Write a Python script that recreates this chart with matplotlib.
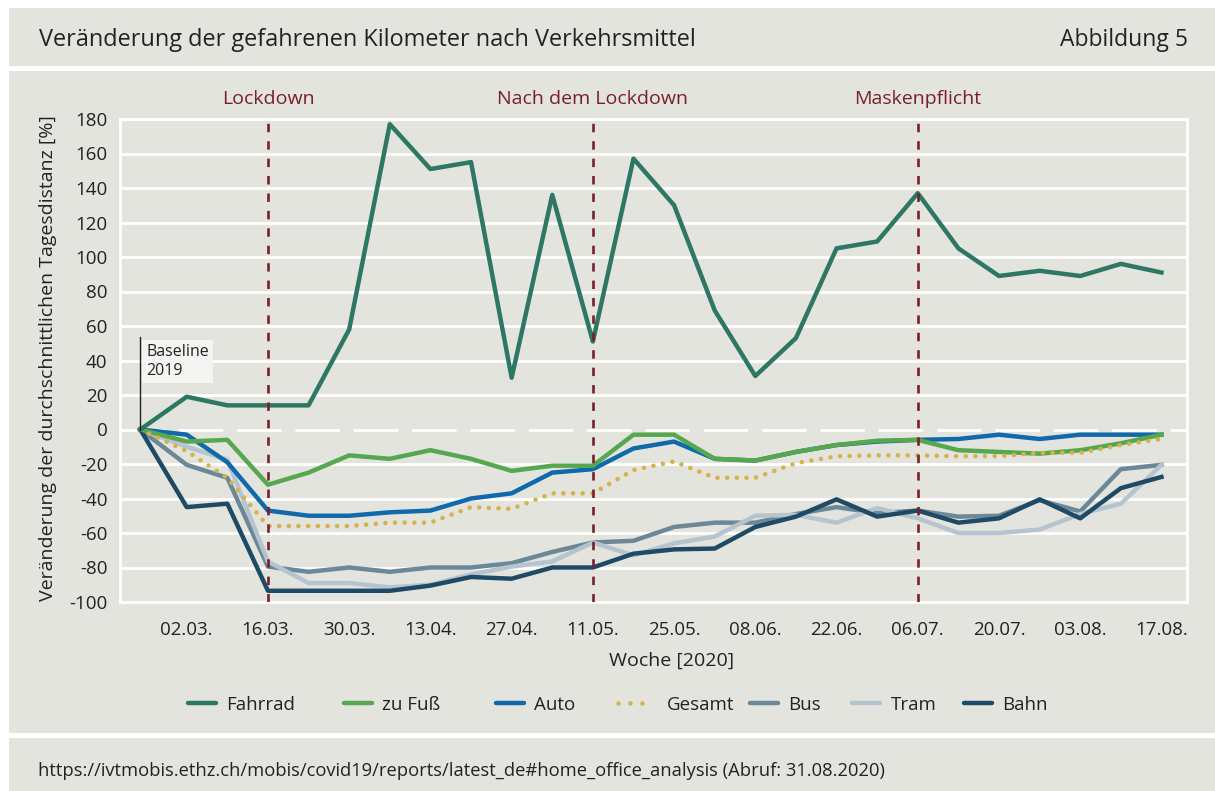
import matplotlib
matplotlib.use("Agg")
import matplotlib.pyplot as plt
from matplotlib.patches import Rectangle
import numpy as np

plt.rcParams['font.family'] = ['Open Sans', 'DejaVu Sans']

# ---------------- data ----------------
# days relative to Monday 02.03.2020; first value is the 2019 baseline
days = [-8, 0, 7, 14, 21, 28, 35, 42, 49, 56, 63, 70, 77, 84, 91, 98, 105,
        112, 119, 126, 133, 140, 147, 154, 161, 168]
tick_days = [0, 14, 28, 42, 56, 70, 84, 98, 112, 126, 140, 154, 168]
tick_labels = ['02.03.', '16.03.', '30.03.', '13.04.', '27.04.', '11.05.', '25.05.',
               '08.06.', '22.06.', '06.07.', '20.07.', '03.08.', '17.08.']

fahrrad = [0, 19, 14, 14, 14, 58, 177, 151, 155, 30, 136, 51, 157, 130, 69, 31, 53,
           105, 109, 137, 105, 89, 92, 89, 96, 91]
zu_fuss = [0, -7, -6, -32, -25, -15, -17, -12, -17, -24, -21, -21, -3, -3, -17, -18, -13,
           -9, -6.5, -6, -12, -13, -14, -12, -8, -3]
auto = [0, -3, -19, -47, -50, -50, -48, -47, -40, -37, -25, -23, -11, -7, -17, -18, -13,
        -9, -7, -6, -5.5, -3, -5.5, -3, -3, -3]
gesamt = [0, -12.5, -28, -56, -56, -56, -54, -54, -45, -46, -37, -37, -23.5, -18.5, -28, -28,
          -19.5, -15.5, -15, -15, -15.5, -15.5, -13.5, -13.5, -9, -5.5]
bus = [0, -20.5, -28, -79.5, -82.5, -80, -82.5, -80, -80, -77.5, -71, -65.5, -64.5, -56.5,
       -54, -54, -49, -45, -48.5, -47, -50.5, -50, -41, -47.5, -23, -20.5]
tram = [0, -10, -17.5, -76.5, -89, -89, -91.5, -90, -84, -79.5, -76.5, -65.5, -73, -66, -62,
        -50, -49.5, -54, -45.5, -51.5, -60, -60, -58, -49, -43, -20.5]
bahn = [0, -45, -43, -93.5, -93.5, -93.5, -93.5, -90.5, -85.5, -86.5, -80, -80, -72, -69.5,
        -69, -56.5, -50.5, -40.5, -50.5, -47, -54, -51.5, -40.5, -51.5, -34, -27.5]

events_day = [14, 70, 126]
events_lbl = ['Lockdown', 'Nach dem Lockdown', 'Maskenpflicht']

yticks = list(range(-100, 181, 20))

# ---------------- styling ----------------
W, H = 1215, 791
BG = '#e4e4df'
TXT = '#222222'
RED = '#7a1f2a'
C_FAHRRAD = '#2e7764'
C_FUSS = '#57a74f'
C_AUTO = '#0f69ab'
C_GESAMT = '#d4b24c'
C_BUS = '#6b8798'
C_TRAM = '#b5c4ce'
C_BAHN = '#1e4a65'

fig = plt.figure(figsize=(W / 100, H / 100), dpi=100, facecolor='white')

def px_rect(x0, y0, x1, y1):
    return Rectangle((x0 / W, 1 - y1 / H), (x1 - x0) / W, (y1 - y0) / H,
                     transform=fig.transFigure, facecolor=BG, edgecolor='none', zorder=-10)

fig.patches.extend([px_rect(9, 8, W, 66), px_rect(9, 71, W, 733), px_rect(9, 738, W, H)])

fig.text(39 / W, 1 - 40 / H, 'Veränderung der gefahrenen Kilometer nach Verkehrsmittel',
         fontsize=16.9, color=TXT, va='center', ha='left')
fig.text(1188 / W, 1 - 40 / H, 'Abbildung 5', fontsize=16.5, color=TXT, va='center', ha='right')
fig.text(38 / W, 1 - 771 / H,
         'https://ivtmobis.ethz.ch/mobis/covid19/reports/latest_de#home_office_analysis (Abruf: 31.08.2020)',
         fontsize=13.2, color=TXT, va='center', ha='left')

ax_l, ax_r, ax_t, ax_b = 120, 1187, 119, 602
ax = fig.add_axes([ax_l / W, 1 - ax_b / H, (ax_r - ax_l) / W, (ax_b - ax_t) / H])
ax.set_facecolor(BG)
ax.set_ylim(-100, 180)
ax.set_xlim(-11.5, 172.4)

for s in ax.spines.values():
    s.set_color('white')
    s.set_linewidth(2)

for yv in yticks:
    if yv == 0:
        ax.axhline(0, color='white', lw=2, ls=(0, (16, 5)), zorder=1)
    else:
        ax.axhline(yv, color='white', lw=2, zorder=1)

lw = 3.2
ax.plot(days, bus, color=C_BUS, lw=lw, zorder=3, label='Bus')
ax.plot(days, tram, color=C_TRAM, lw=lw, zorder=3.1, label='Tram')
ax.plot(days, bahn, color=C_BAHN, lw=lw, zorder=3.2, label='Bahn')
ax.plot(days, auto, color=C_AUTO, lw=lw, zorder=3.3, label='Auto')
ax.plot(days, zu_fuss, color=C_FUSS, lw=lw, zorder=3.4, label='zu Fuß')
ax.plot(days, gesamt, color=C_GESAMT, lw=3.3, ls=(0, (0.01, 2.1)), dash_capstyle='round',
        zorder=3.5, label='Gesamt')
ax.plot(days, fahrrad, color=C_FAHRRAD, lw=lw, zorder=3.6, label='Fahrrad')

for xd, lbl in zip(events_day, events_lbl):
    ax.axvline(xd, color=RED, lw=1.9, ls=(0, (3.2, 3.4)), zorder=5)
    ax.text(xd, 1.0 + 20 / (ax_b - ax_t), lbl, transform=ax.get_xaxis_transform(),
            ha='center', va='center', color=RED, fontsize=14)

# Baseline annotation
ax.plot([days[0], days[0]], [0, 53.5], color=TXT, lw=1, zorder=4)
ax.text(days[0] + 1.0, 49.5, 'Baseline\n2019', ha='left', va='top', fontsize=11.5, color=TXT,
        zorder=4, linespacing=1.2,
        bbox=dict(boxstyle='square,pad=0.25', facecolor='#f4f4f2', edgecolor='none'))

ax.set_yticks(yticks)
ax.set_yticklabels([str(v) for v in yticks])
ax.set_xticks(tick_days)
ax.set_xticklabels(tick_labels)
ax.tick_params(axis='both', length=0, labelsize=13.5, colors=TXT)
ax.tick_params(axis='y', pad=9)
ax.tick_params(axis='x', pad=14)

fig.text(48 / W, 1 - 358 / H, 'Veränderung der durchschnittlichen Tagesdistanz [%]',
         rotation=90, ha='center', va='center', fontsize=14, color=TXT)
fig.text(672 / W, 1 - 661 / H, 'Woche [2020]', ha='center', va='center', fontsize=14, color=TXT)

# legend: one entry per column, placed at the reference positions
handles, labels = ax.get_legend_handles_labels()
hmap = dict(zip(labels, handles))
order = ['Fahrrad', 'zu Fuß', 'Auto', 'Gesamt', 'Bus', 'Tram', 'Bahn']
leg_x = [188, 344, 496, 618, 750, 852, 964]
for name, xp in zip(order, leg_x):
    is_dot = name == 'Gesamt'
    lg = fig.legend([hmap[name]], [name], loc='center left',
                    bbox_to_anchor=(xp / W, 1 - 705 / H), frameon=False, fontsize=13.5,
                    borderpad=0, borderaxespad=0,
                    handlelength=1.5 if not is_dot else 1.33,
                    handletextpad=0.55 if not is_dot else 1.27, labelcolor=TXT)
    for lh in lg.get_lines():
        if is_dot:
            lh.set_linestyle((0, (0.01, 2.6)))
        else:
            lh.set_solid_capstyle('round')

fig.savefig('out.png', dpi=100, facecolor='white')
